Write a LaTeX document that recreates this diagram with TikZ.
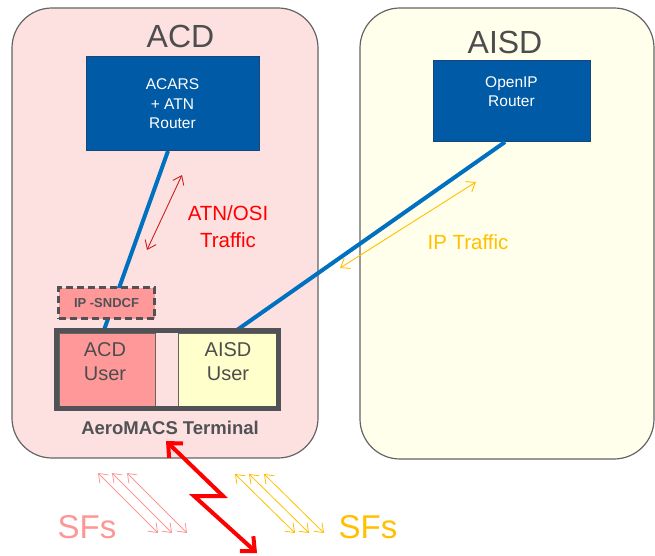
\documentclass[tikz,border=0pt]{standalone}
\usepackage{fontspec}
\setmainfont{Liberation Sans}
\usetikzlibrary{arrows.meta}
\definecolor{acdbg}{RGB}{253,225,225}
\definecolor{aisdbg}{RGB}{255,255,236}
\definecolor{domgray}{RGB}{100,100,100}
\definecolor{titlegray}{RGB}{77,77,77}
\definecolor{routerblue}{RGB}{0,90,165}
\definecolor{routeredge}{RGB}{25,70,120}
\definecolor{lineblue}{RGB}{0,112,192}
\definecolor{salmon}{RGB}{255,153,153}
\definecolor{useryellow}{RGB}{255,255,204}
\definecolor{termgray}{RGB}{80,82,85}
\definecolor{amber}{RGB}{255,192,0}
\definecolor{darkred}{RGB}{205,30,30}
\definecolor{sfpink}{RGB}{255,150,150}
\begin{document}
\begin{tikzpicture}[x=1pt,y=-1pt,
  domainbox/.style={draw=domgray, line width=1.2pt, rounded corners=40pt, inner sep=0pt},
  router/.style={draw=routeredge, fill=routerblue, text=white, line width=1pt, align=center, inner sep=0pt, font=\fontsize{15.5}{19.5}\selectfont},
  title/.style={text=titlegray, inner sep=0pt, font=\fontsize{32}{38}\selectfont},
  link/.style={draw=lineblue, line width=4pt},
  thinarrow/.style={line width=0.9pt, {Straight Barb[length=8pt,width=12pt]}-{Straight Barb[length=8pt,width=12pt]}},
  traffic/.style={inner sep=0pt, align=center, font=\fontsize{20.5}{27}\selectfont},
  cell/.style={draw=domgray, line width=0.8pt, inner sep=0pt, minimum height=73pt},
  usertxt/.style={text=titlegray, inner sep=0pt, align=center, font=\fontsize{20}{24}\selectfont},
  sflabel/.style={inner sep=0pt, font=\fontsize{33}{40}\selectfont}
]
\useasboundingbox (0,0) rectangle (655,556);
% domains
\node[domainbox, fill=acdbg, minimum width=306pt, minimum height=450pt] (acd) at (165,233) {};
\node[domainbox, fill=aisdbg, minimum width=294pt, minimum height=451pt] (aisd) at (507,233.5) {};
\node[title] (acdtitle) at (180.5,36) {ACD};
\node[title] (aisdtitle) at (505,42) {AISD};
% routers
\node[router, minimum width=173pt, minimum height=94pt] (acars) at (172.5,104) {ACARS\\+ ATN\\Router};
\node[router, minimum width=157pt, minimum height=81pt] (openip) at (511.5,101.5) {OpenIP\\Router\\\mbox{}};
% link end points
\coordinate (acarsb) at (168,151);
\coordinate (termtl) at (104,330);
\coordinate (openipb) at (505,142);
\coordinate (termtr) at (237,330);
\draw[link] (acarsb) -- (termtl);
\draw[link] (openipb) -- (termtr);
% traffic arrows
\coordinate (atn1) at (182,175);
\coordinate (atn2) at (147,250);
\draw[thinarrow, darkred] (atn1) -- (atn2);
\node[traffic, text=red] (atnlbl) at (228,227) {ATN/OSI\\Traffic};
\coordinate (ip1) at (476,182);
\coordinate (ip2) at (340,268);
\draw[thinarrow, amber] (ip1) -- (ip2);
\node[traffic, text=amber] (iplbl) at (468,242) {IP Traffic};
% IP-SNDCF
\node[draw=termgray, fill=salmon, line width=3pt, dash pattern=on 7pt off 4pt, minimum width=96pt, minimum height=31pt, inner sep=0pt, text=termgray, font=\bfseries\fontsize{13}{15}\selectfont] (sndcf) at (106.5,303) {IP -SNDCF};
% terminal
\node[cell, fill=salmon, minimum width=96pt] (acduser) at (107,369.5) {};
\node[cell, fill=useryellow, minimum width=98pt] (aisduser) at (227,369.5) {};
\node[draw=termgray, line width=5pt, minimum width=222pt, minimum height=78pt, inner sep=0pt] (term) at (167.5,369.5) {};
\node[usertxt] (acdusertxt) at (105,362) {ACD\\User};
\node[usertxt] (aisdusertxt) at (228,362) {AISD\\User};
\node[text=termgray, inner sep=0pt, font=\bfseries\fontsize{18.5}{22}\selectfont] (termlbl) at (170,428) {AeroMACS Terminal};
% radio link
\coordinate (lt1) at (166,441);
\coordinate (lt2) at (223,496);
\coordinate (lt3) at (194,496);
\coordinate (lt4) at (257,553);
\draw[red, line width=4pt, line join=miter, {Straight Barb[length=11pt,width=20pt]}-{Straight Barb[length=11pt,width=20pt]}] (lt1) -- (lt2) -- (lt3) -- (lt4);
% service flows
\foreach \i/\dx in {1/0,2/14,3/29} {
  \coordinate (pa\i) at (98+\dx,473);
  \coordinate (pb\i) at (158+\dx,533);
  \draw[thinarrow, sfpink, line width=0.8pt] (pa\i) -- (pb\i);
  \coordinate (ya\i) at (235+\dx,474);
  \coordinate (yb\i) at (295+\dx,533);
  \draw[thinarrow, amber, line width=0.8pt] (ya\i) -- (yb\i);
}
\node[sflabel, text=sfpink] (sfpinklbl) at (87,527) {SFs};
\node[sflabel, text=amber] (sfamberlbl) at (368,527) {SFs};
\end{tikzpicture}
\end{document}
